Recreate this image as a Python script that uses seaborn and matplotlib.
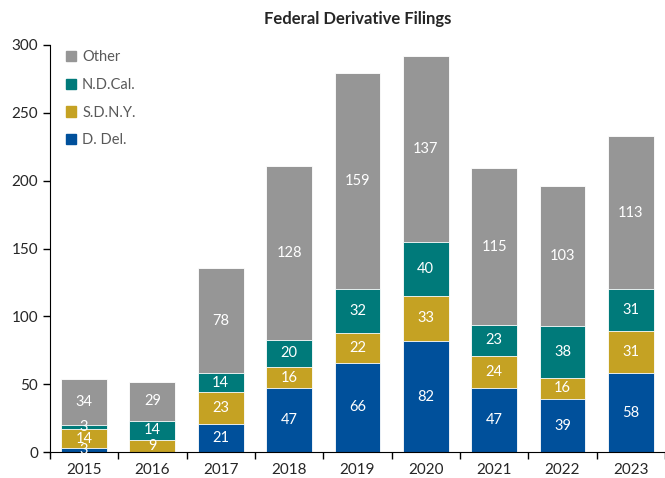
import numpy as np
import pandas as pd
import seaborn as sns
import matplotlib.pyplot as plt
from matplotlib.patches import Patch

# Data
years = ["2015", "2016", "2017", "2018", "2019", "2020", "2021", "2022", "2023"]
d_del = [3, 0, 21, 47, 66, 82, 47, 39, 58]
sdny = [14, 9, 23, 16, 22, 33, 24, 16, 31]
ndcal = [3, 14, 14, 20, 32, 40, 23, 38, 31]
other = [34, 29, 78, 128, 159, 137, 115, 103, 113]

series = ["D. Del.", "S.D.N.Y.", "N.D.Cal.", "Other"]
colors = {"D. Del.": "#00509B", "S.D.N.Y.": "#C5A223",
          "N.D.Cal.": "#007A7A", "Other": "#969696"}

df = pd.DataFrame({"year": years, "D. Del.": d_del, "S.D.N.Y.": sdny,
                   "N.D.Cal.": ndcal, "Other": other})
cum = df[series].cumsum(axis=1)

sns.set_style("ticks")
plt.rcParams["font.family"] = ["Lato", "DejaVu Sans"]

fig = plt.figure(figsize=(6.65, 4.78), dpi=100)
ax = fig.add_axes([0.075, 0.054, 0.925, 0.852])

# stacked bars: draw cumulative totals, tallest first
for name in reversed(series):
    sns.barplot(x=df["year"], y=cum[name], color=colors[name], width=0.67,
                edgecolor="white", linewidth=0.6, saturation=1, ax=ax)

# segment labels
for i in range(len(years)):
    base = 0
    for name in series:
        v = df[name][i]
        if v > 0:
            ax.text(i, base + v / 2, str(v), ha="center", va="center",
                    color="white", fontsize=10.5)
        base += v

ax.set_ylim(0, 300)
ax.set_xlim(-0.5, len(years) - 0.5)
ax.set_yticks(range(0, 301, 50))
ax.set_xlabel("")
ax.set_ylabel("")
ax.set_title("Federal Derivative Filings", fontsize=12, fontweight="bold", pad=15)

# ticks between categories like the original
ax.set_xticks(np.arange(-0.5, len(years), 1), minor=False)
ax.set_xticklabels([])
ax.set_xticks(range(len(years)), minor=True)
ax.set_xticklabels(years, minor=True)
ax.tick_params(axis="x", which="minor", length=0, labelsize=11, pad=8)
ax.tick_params(axis="x", which="major", length=5, color="black", width=1)
ax.tick_params(axis="y", labelsize=11, length=5, color="black", width=1)
sns.despine(ax=ax)
ax.spines["left"].set_color("black")
ax.spines["bottom"].set_color("black")

handles = [Patch(color=colors[n], label=n) for n in reversed(series)]
leg = ax.legend(handles=handles, loc="upper left", frameon=False,
                handlelength=0.7, handleheight=0.7, handletextpad=0.4,
                labelspacing=0.95, fontsize=10.5, bbox_to_anchor=(0.005, 1.02))
for t in leg.get_texts():
    t.set_color("#595959")

fig.savefig("out.png", dpi=100)
